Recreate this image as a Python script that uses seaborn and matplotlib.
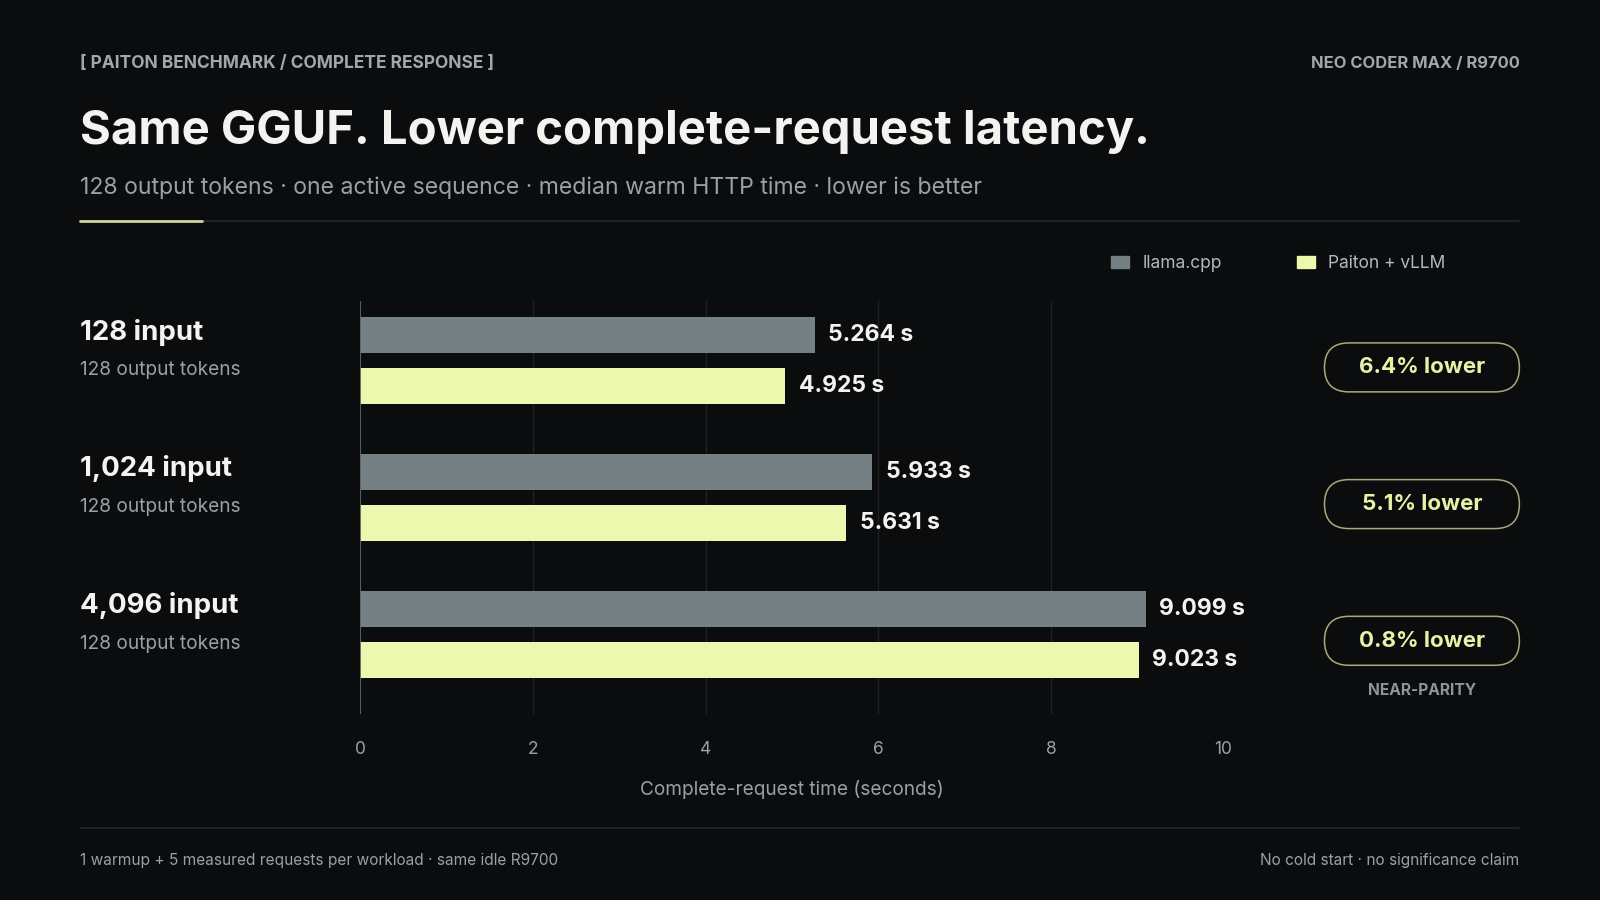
import pandas as pd
import matplotlib
matplotlib.use("Agg")
import matplotlib.pyplot as plt
import seaborn as sns
from matplotlib.patches import FancyBboxPatch, Rectangle
from matplotlib.lines import Line2D
from matplotlib.transforms import blended_transform_factory

# data
workloads = ["128 input", "1,024 input", "4,096 input"]
sublabels = ["128 output tokens", "128 output tokens", "128 output tokens"]
llama_cpp = [5.264, 5.933, 9.099]
paiton_vllm = [4.925, 5.631, 9.023]
engines = ["llama.cpp", "Paiton + vLLM"]
xticks = [0, 2, 4, 6, 8, 10]

BG = "#0a0c0e"
GRAY_BAR = "#748084"
YELLOW_BAR = "#ecf8ad"
TXT = "#f3f3ef"
MUTED = "#9ba1a2"
LINE = "#262b2d"

df = pd.DataFrame({
    "workload": workloads * 2,
    "seconds": llama_cpp + paiton_vllm,
    "engine": [engines[0]] * 3 + [engines[1]] * 3,
})

sns.set_theme(style="dark")
plt.rcParams["font.family"] = ["Inter", "DejaVu Sans"]

W, H = 1568, 882
def fx(px):
    return px / W
def fy(py):
    return 1 - py / H

fig = plt.figure(figsize=(16, 9), dpi=100, facecolor=BG)
ax = fig.add_axes([fx(353), fy(700), fx(1199) - fx(353), fy(295) - fy(700)])
ax.set_facecolor(BG)

sns.barplot(data=df, y="workload", x="seconds", hue="engine", orient="h",
            palette={engines[0]: GRAY_BAR, engines[1]: YELLOW_BAR}, saturation=1,
            width=0.746, gap=0.3, linewidth=0, ax=ax, zorder=3)

ax.set_xlim(0, 10)
ax.set_ylim(2.586, -0.437)
for s in ax.spines.values():
    s.set_visible(False)
ax.set_xticks(xticks)
ax.grid(axis="x", color="#1d2224", lw=1.0, zorder=0)
ax.grid(axis="y", visible=False)
ax.axvline(0, color="#5e6466", lw=1.3, zorder=4)
ax.tick_params(axis="x", length=0, colors=MUTED, labelsize=12.5, pad=19)
ax.set_yticks([])
ax.set_ylabel("")
ax.set_xlabel("Complete-request time (seconds)", color=MUTED, fontsize=13.7)
ax.xaxis.set_label_coords(0.5, -(774 - 700) / 405)
ax.xaxis.label.set_va("center")

# value labels
for cont in ax.containers:
    ax.bar_label(cont, fmt="%.3f s", padding=9.5, color=TXT, fontsize=16.5,
                 fontweight="bold", zorder=5)

# legend
ax.get_legend().remove()
handles = [Rectangle((0, 0), 1, 1, color=GRAY_BAR), Rectangle((0, 0), 1, 1, color=YELLOW_BAR)]
fig.legend(handles, engines, loc="center left", bbox_to_anchor=(fx(1089), fy(258)),
           ncol=2, frameon=False, fontsize=12.5, labelcolor="#b4b9ba",
           handlelength=1.05, handleheight=0.7, handletextpad=0.75,
           columnspacing=4.3, borderpad=0, borderaxespad=0)

# left category labels
trans = blended_transform_factory(fig.transFigure, ax.transData)
for i, (w, s) in enumerate(zip(workloads, sublabels)):
    ax.text(fx(78), i - 0.21, w, transform=trans, color=TXT, fontsize=19.9,
            fontweight="bold", va="center", ha="left")
    ax.text(fx(78), i + 0.07, s, transform=trans, color=MUTED, fontsize=13.75,
            va="center", ha="left")

# pills with relative improvement
x0 = (1298 - 353) / 84.6
x1 = (1489 - 353) / 84.6
ph = 48 / 134
for i, (a, b) in enumerate(zip(llama_cpp, paiton_vllm)):
    pct = (a - b) / a * 100
    yc = i + 0.0485
    pill = FancyBboxPatch((x0, yc - ph / 2), x1 - x0, ph,
                          boxstyle="round,pad=0,rounding_size=0.283",
                          mutation_aspect=84.6 / 134, transform=ax.transData,
                          facecolor="none", edgecolor="#a7ab7a", lw=1.1, clip_on=False)
    ax.add_patch(pill)
    ax.text((x0 + x1) / 2, yc, f"{pct:.1f}% lower", color="#e8f2a6", fontsize=16.1,
            fontweight="bold", ha="center", va="center", clip_on=False)
ax.text((x0 + x1) / 2, 2 + 0.415, "NEAR-PARITY", color="#8f9596", fontsize=11.2,
        fontweight="bold", ha="center", va="center", clip_on=False)

# header
fig.text(fx(78), fy(67), "[ PAITON BENCHMARK / COMPLETE RESPONSE ]", color="#a2a8a9",
         fontsize=12.5, fontweight="bold", va="baseline")
fig.text(fx(1489), fy(67), "NEO CODER MAX / R9700", color="#a2a8a9",
         fontsize=11.9, fontweight="bold", va="baseline", ha="right")
fig.text(fx(78), fy(141), "Same GGUF. Lower complete-request latency.", color=TXT,
         fontsize=34, fontweight="bold", va="baseline")
fig.text(fx(78), fy(190),
         "128 output tokens \u00b7 one active sequence \u00b7 median warm HTTP time \u00b7 lower is better",
         color=MUTED, fontsize=16.6, va="baseline")
fig.add_artist(Line2D([fx(78), fx(1489)], [fy(217), fy(217)], color=LINE, lw=1.1))
fig.add_artist(Line2D([fx(78), fx(198)], [fy(217), fy(217)], color="#cfd69a", lw=2))

# footer
fig.add_artist(Line2D([fx(78), fx(1489)], [fy(811), fy(811)], color=LINE, lw=1.1))
fig.text(fx(78), fy(847.5), "1 warmup + 5 measured requests per workload \u00b7 same idle R9700",
         color=MUTED, fontsize=11.1, va="baseline")
fig.text(fx(1489), fy(847.5), "No cold start \u00b7 no significance claim",
         color=MUTED, fontsize=11.1, va="baseline", ha="right")

fig.savefig("out.png", dpi=100, facecolor=BG)
